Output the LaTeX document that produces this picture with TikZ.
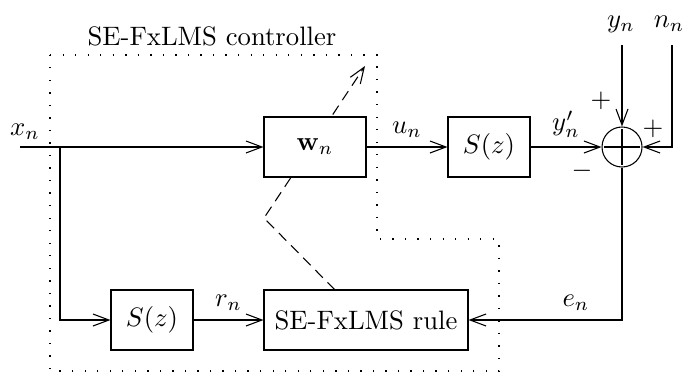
\documentclass[tikz,border=0pt]{standalone}
\usepackage{amsmath, amssymb}
\usepackage{tikz}
\usetikzlibrary{arrows.meta, positioning, calc}

\tikzset{
  blockbox/.style={draw, fill=white, minimum height=22.5pt, inner sep=0pt},
  sig/.style={-{Straight Barb[length=6pt, width=4.5pt]}},
  ctrlframe/.style={dash pattern=on 0.5pt off 4.2pt, line width=0.5pt},
  adapt/.style={dash pattern=on 4pt off 2.5pt},
}

\begin{document}
\begin{tikzpicture}[x=0.375pt, y=-0.375pt]
  \useasboundingbox (0,0) rectangle (696,372);

  % Controller boundary
  \draw[ctrlframe] (50,55) -- (377,55) -- (377,239) -- (499,239) -- (499,371) -- (50,371) -- cycle;
  \node[anchor=base] (ctrltitle) at (212,45) {SE-FxLMS controller};

  % Update rule and filtered reference
  \node[blockbox, minimum width=30.75pt] (sfilt) at (152,320) {$S(z)$};
  \node[blockbox, minimum width=76.5pt] (rule) at (366,320) {SE-FxLMS rule};

  % Adaptation arrow (goes behind the filter box)
  \coordinate (tap) at (335,290);
  \coordinate (bend) at (264,218);
  \coordinate (tip) at (365,66);
  \draw[adapt, -{Straight Barb[length=6pt, width=4.5pt]}] (tap) -- (bend) -- (tip);

  % Forward path
  \node[blockbox, minimum width=38.25pt] (w) at (315,147) {$\mathbf{w}_n$};
  \node[blockbox, minimum width=30.75pt] (splant) at (489,147) {$S(z)$};
  \node[draw, circle, minimum size=15pt, inner sep=0pt] (sum) at (622,147) {};
  \draw ($(sum.center)+(-18,0)$) -- ($(sum.center)+(18,0)$);
  \draw ($(sum.center)+(0,-18)$) -- ($(sum.center)+(0,18)$);

  \coordinate (xin) at (20,147);
  \coordinate (split) at (60,147);
  \node (xlab) at (25,132) {$x_n$};
  \draw[sig] (xin) -- (w.west);
  \draw[sig] (split) |- (sfilt.west);
  \draw[sig] (sfilt.east) -- node[above] {$r_n$} (rule.west);
  \draw[sig] (w.east) -- node[above] {$u_n$} (splant.west);
  \draw[sig] (splant.east) -- node[above] {$y'_n$} (sum.west);

  % Disturbance inputs
  \node (ylab) at (621,24) {$y_n$};
  \node (nlab) at (669,24) {$n_n$};
  \coordinate (ytop) at (622,45);
  \coordinate (ntop) at (672,45);
  \draw[sig] (ytop) -- (sum.north);
  \draw[sig] (ntop) |- (sum.east);
  \node (plusy) at (601,101) {$+$};
  \node (plusn) at (653,129) {$+$};
  \node (minus) at (582,171) {$-$};

  % Error feedback
  \coordinate (ecorner) at (622,320);
  \draw[sig] (sum.south) -- (ecorner) -- node[above, pos=0.3] {$e_n$} (rule.east);
\end{tikzpicture}
\end{document}
